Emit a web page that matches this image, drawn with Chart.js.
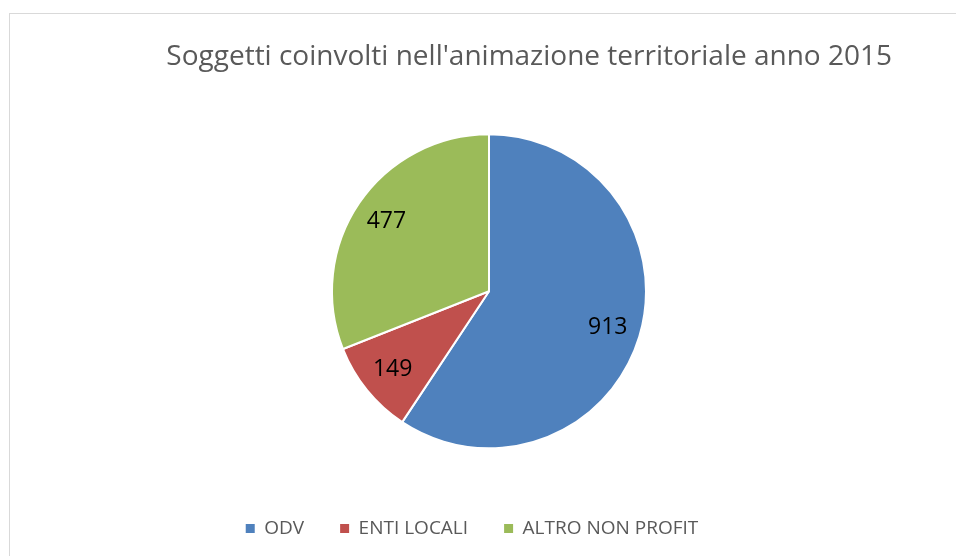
<!DOCTYPE html>
<html><head><meta charset="utf-8">
<script src="https://cdn.jsdelivr.net/npm/chart.js@4"></script>
<style>
html,body{margin:0;padding:0;background:#fff;width:956px;height:556px;overflow:hidden}
#frame{position:absolute;left:9px;top:13px;width:1000px;height:600px;border-left:1px solid #d9d9d9;border-top:1px solid #d9d9d9}
#wrap{position:absolute;left:0;top:0;width:956px;height:556px}
</style></head><body>
<div id="frame"></div>
<div id="wrap"><canvas id="c" width="956" height="556"></canvas></div>
<script>
const categories = ['ODV', 'ENTI LOCALI', 'ALTRO NON PROFIT'];
const values = [913, 149, 477];
const sliceColors = ['#4F81BD', '#C0504D', '#9BBB59'];
const chartTitle = "Soggetti coinvolti nell'animazione territoriale anno 2015";

const valueLabels = {
  id: 'valueLabels',
  afterDatasetsDraw(chart) {
    const ctx = chart.ctx;
    const meta = chart.getDatasetMeta(0);
    ctx.save();
    ctx.font = '23px "Open Sans"';
    ctx.fillStyle = '#000';
    ctx.textAlign = 'center';
    ctx.textBaseline = 'middle';
    meta.data.forEach((arc, i) => {
      const p = arc.getProps(['x', 'y', 'startAngle', 'endAngle', 'outerRadius'], true);
      const mid = (p.startAngle + p.endAngle) / 2;
      const r = p.outerRadius * 0.79;
      ctx.fillText(String(chart.data.datasets[0].data[i]), p.x + Math.cos(mid) * r, p.y + Math.sin(mid) * r);
    });
    ctx.restore();
  }
};

new Chart(document.getElementById('c'), {
  type: 'pie',
  data: {
    labels: categories,
    datasets: [{
      data: values,
      backgroundColor: sliceColors,
      borderColor: '#ffffff',
      borderWidth: 2,
      hoverOffset: 0,
      radius: 157
    }]
  },
  options: {
    responsive: false,
    animation: false,
    events: [],
    layout: { padding: { top: 0, left: 52, right: 64, bottom: 8 } },
    plugins: {
      title: {
        display: true, text: chartTitle, align: 'end', fullSize: false, color: '#595959',
        font: { family: '"Open Sans"', size: 28, weight: 'normal', lineHeight: 1.2 },
        padding: { top: 40, bottom: 26 }
      },
      subtitle: {
        display: true, position: 'left', fullSize: false, text: ' ', color: 'rgba(0,0,0,0)',
        font: { size: 10, lineHeight: 1.2 }, padding: { top: 11, bottom: 11 }
      },
      legend: {
        position: 'bottom', align: 'center', fullSize: true,
        labels: {
          boxWidth: 9, boxHeight: 9, padding: 36, color: '#595959',
          font: { family: '"Open Sans"', size: 19 },
          generateLabels(chart) {
            const ds = chart.data.datasets[0];
            return chart.data.labels.map((t, i) => ({
              text: t, fillStyle: ds.backgroundColor[i], strokeStyle: ds.backgroundColor[i],
              lineWidth: 0, fontColor: '#595959', hidden: false, index: i
            }));
          }
        }
      },
      tooltip: { enabled: false }
    }
  },
  plugins: [valueLabels]
});
</script>
</body></html>
